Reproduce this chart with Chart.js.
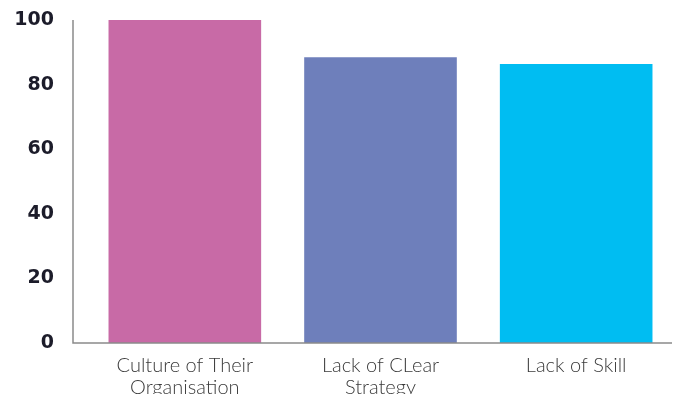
<!DOCTYPE html>
<html>
<head>
<meta charset="utf-8">
<script src="https://cdn.jsdelivr.net/npm/chart.js@4"></script>
<style>
  html, body { margin: 0; padding: 0; background: #fff; }
  #wrap { width: 677px; height: 394px; }
</style>
</head>
<body>
<div id="wrap"><canvas id="chart" width="677" height="394"></canvas></div>
<script>
const categories = [['Culture of Their', 'Organisation'], ['Lack of CLear', 'Strategy'], 'Lack of Skill'];
const values = [100, 88.5, 86.4];
const barColors = ['#c86aa6', '#6e7fbb', '#00bdf2'];
const yTicks = [0, 20, 40, 60, 80, 100];

// axis lines sit a bit left of the first category, so draw them by hand
const axisLines = {
  id: 'axisLines',
  afterDraw(chart) {
    const { ctx, chartArea } = chart;
    const y = chart.scales.y;
    ctx.save();
    ctx.strokeStyle = '#8a8a8a';
    ctx.lineWidth = 1.5;
    ctx.beginPath();
    ctx.moveTo(73, y.getPixelForValue(100));
    ctx.lineTo(73, chartArea.bottom);
    ctx.lineTo(672, chartArea.bottom);
    ctx.stroke();
    ctx.restore();
  }
};

new Chart(document.getElementById('chart').getContext('2d'), {
  type: 'bar',
  data: {
    labels: categories,
    datasets: [{
      data: values,
      backgroundColor: barColors,
      borderWidth: 0,
      barPercentage: 0.78,
      categoryPercentage: 1
    }]
  },
  options: {
    responsive: false,
    animation: false,
    layout: { padding: { top: 20, right: 3, left: 0, bottom: 0 } },
    plugins: { legend: { display: false }, tooltip: { enabled: false } },
    scales: {
      x: {
        grid: { display: false },
        border: { display: false },
        ticks: {
          color: '#3a3a3a',
          padding: 4,
          maxRotation: 0,
          autoSkip: false,
          font: { family: 'Lato, sans-serif', size: 20, weight: '300', lineHeight: 1.1 }
        },
        afterFit(scale) { scale.height = 51; scale.paddingLeft = 0; scale.paddingRight = 0; }
      },
      y: {
        min: 0,
        max: 100,
        afterBuildTicks(scale) { scale.ticks = yTicks.map(v => ({ value: v })); },
        grid: { display: false },
        border: { display: false },
        ticks: {
          color: '#1c1c2a',
          padding: 25,
          font: { family: 'DejaVu Sans, sans-serif', size: 19, weight: 'bold' }
        },
        afterFit(scale) { scale.width = 87; scale.paddingTop = 0; scale.paddingBottom = 0; }
      }
    }
  },
  plugins: [axisLines]
});
</script>
</body>
</html>
